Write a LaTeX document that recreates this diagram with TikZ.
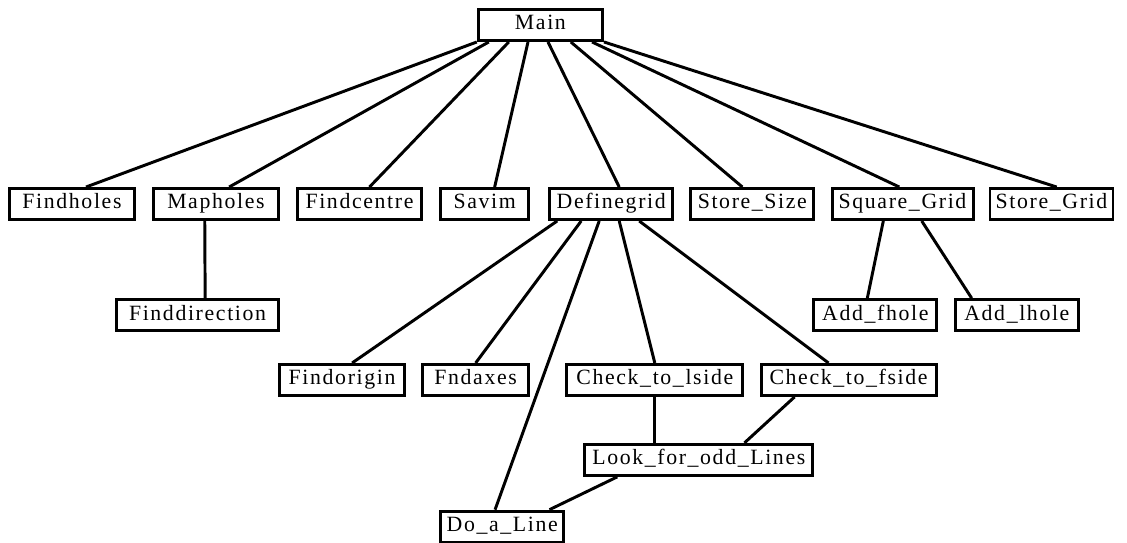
\documentclass[tikz,border=0pt]{standalone}
\usepackage{fontspec}
\setmainfont{Liberation Serif}[LetterSpace=7.5]
\usetikzlibrary{positioning}

\begin{document}
\begin{tikzpicture}[
    every node/.style={font=\fontsize{15.5}{18}\selectfont},
    box/.style={draw,line width=2.1pt,rectangle,minimum width=30.75mm,minimum height=7.75mm,
                inner xsep=0.8mm,text height=10.5pt,text depth=3.5pt},
    link/.style={line width=2.1pt}
]
\useasboundingbox (0,0) rectangle (28.175,-13.575);

% Main program
\node[box,minimum width=31.05mm] (main) at (13.51,-0.625) {Main};

% First level of calls
\node[box,minimum width=31.05mm] (fholes) at (1.8,-5.1) {Findholes};
\node[box,minimum width=31.25mm,right=4.1mm of fholes]  (mholes)  {Mapholes};
\node[box,minimum width=31.05mm,right=4mm of mholes]    (fcentre) {Findcentre};
\node[box,minimum width=22.05mm,right=4mm of fcentre]   (savim)   {Savim};
\node[box,right=4.5mm of savim]                         (dgrid)   {Definegrid};
\node[box,right=3.8mm of dgrid]                         (ssize)   {Store\_Size};
\node[box,minimum width=35.25mm,right=3.8mm of ssize]   (sqgrid)  {Square\_Grid};
\node[box,right=3.5mm of sqgrid]                        (sgrid)   {Store\_Grid};

\draw[link] (main.south west)             -- ([xshift=3.5mm]fholes.north);
\draw[link] ([xshift=-12.9mm]main.south)  -- ([xshift=3.3mm]mholes.north);
\draw[link] ([xshift=-7.9mm]main.south)   -- ([xshift=2.5mm]fcentre.north);
\draw[link] ([xshift=-3.1mm]main.south)   -- ([xshift=2.5mm]savim.north);
\draw[link] ([xshift=1.9mm]main.south)    -- ([xshift=2mm]dgrid.north);
\draw[link] ([xshift=7.6mm]main.south)    -- ([xshift=-2.5mm]ssize.north);
\draw[link] ([xshift=12.9mm]main.south)   -- ([xshift=-0.8mm]sqgrid.north);
\draw[link] (main.south east)             -- ([xshift=1.3mm]sgrid.north);

% Called from Mapholes
\node[box,minimum width=40.45mm,below=19.3mm of mholes,xshift=-4.6mm] (fdir) {Finddirection};
\draw[link] ([xshift=-2.8mm]mholes.south) -- ([xshift=1.9mm]fdir.north);

% Called from Square_Grid
\node[box,below=19.3mm of sqgrid,xshift=-6.8mm] (afhole) {Add\_fhole};
\node[box,right=3.9mm of afhole]                (alhole) {Add\_lhole};

\draw[link] ([xshift=-4.8mm]sqgrid.south) -- ([xshift=-2mm]afhole.north);
\draw[link] ([xshift=4.8mm]sqgrid.south)  -- ([xshift=-11.3mm]alhole.north);

% Called from Definegrid
\node[box,minimum width=44.05mm,below=35.5mm of dgrid,xshift=10.9mm] (ctl) {Check\_to\_lside};
\node[box,minimum width=26.45mm,left=8.8mm of ctl]                   (faxes) {Fndaxes};
\node[box,minimum width=31.25mm,left=3.8mm of faxes]                 (forigin) {Findorigin};
\node[box,minimum width=43.75mm,right=3.8mm of ctl]                  (ctf) {Check\_to\_fside};
\node[box,minimum width=57.05mm,below=11.5mm of ctl,xshift=11mm]     (lodd) {Look\_for\_odd\_Lines};
\node[box,below left=8.2mm and 4.5mm of lodd]                        (doline) {Do\_a\_Line};

\draw[link] ([xshift=-13.5mm]dgrid.south) -- ([xshift=2.5mm]forigin.north);
\draw[link] ([xshift=-7.5mm]dgrid.south)  -- (faxes.north);
\draw[link] ([xshift=-3mm]dgrid.south)    -- ([xshift=-1.8mm]doline.north);
\draw[link] ([xshift=2mm]dgrid.south)     -- (ctl.north);
\draw[link] ([xshift=7mm]dgrid.south)     -- ([xshift=-5mm]ctf.north);

% Odd line checks
\draw[link] (ctl.south) -- (ctl.south |- lodd.north);
\draw[link] ([xshift=-13.5mm]ctf.south) -- ([xshift=11.4mm]lodd.north);
\draw[link] ([xshift=-20.4mm]lodd.south) -- ([xshift=11.8mm]doline.north);

\end{tikzpicture}
\end{document}
